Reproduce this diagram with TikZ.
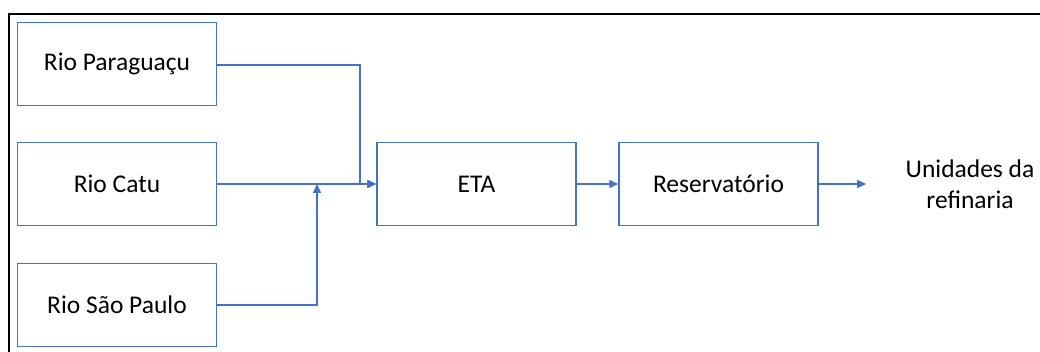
\documentclass[tikz,border=0pt]{standalone}
\usepackage{fontspec}
\setmainfont{Carlito}
\usetikzlibrary{arrows.meta}
\definecolor{boxblue}{HTML}{4472C4}
\begin{document}
\begin{tikzpicture}[
    x=1pt, y=-1pt,
    every node/.style={font=\fontsize{25.5}{31}\selectfont, align=center},
    block/.style={draw=boxblue, line width=1.5pt, minimum width=199pt, minimum height=83pt, inner sep=0pt},
    flow/.style={draw=boxblue, line width=1.5pt, -{Triangle[length=9pt, width=8pt]}},
    frame/.style={draw=black, line width=1.6pt},
]
    \useasboundingbox (0,0) rectangle (1040,352);
    \draw[frame] (9,360) -- (9,14) -- (1050,14);

    \node[block] (paraguacu) at (117,64) {Rio Paraguaçu};
    \node[block] (catu) at (117,184) {Rio Catu};
    \node[block] (saopaulo) at (117,305) {Rio São Paulo};
    \node[block] (eta) at (476.5,184) {ETA};
    \node[block] (reserv) at (718.5,184) {Reservatório};
    \node (unidades) at (970,184) {Unidades da\\refinaria};

    \coordinate (pjoin) at (360,184);
    \coordinate (sjoin) at (317,184);

    \draw[flow] (paraguacu.east) -- ++(0,1) -| (pjoin) -- (eta.west);
    \draw[flow] (catu.east) -- (eta.west);
    \draw[flow] (saopaulo.east) -| (sjoin);
    \draw[flow] (eta.east) -- (reserv.west);
    \draw[flow] (reserv.east) -- ([xshift=-36pt]reserv.east -| unidades.west);
\end{tikzpicture}
\end{document}
